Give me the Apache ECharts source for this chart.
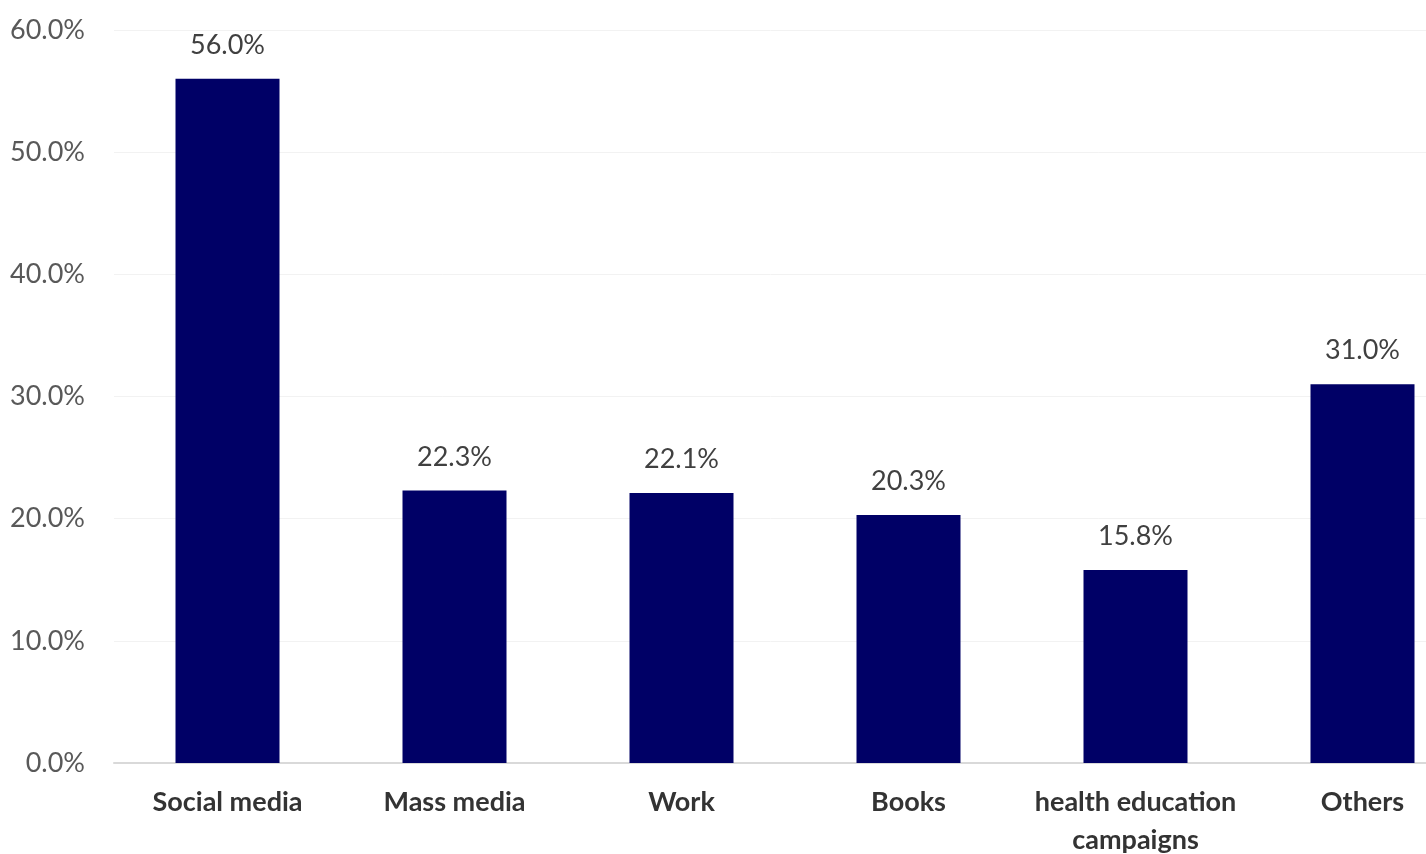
<!DOCTYPE html>
<html>
<head>
<meta charset="utf-8">
<script src="https://cdn.jsdelivr.net/npm/echarts@6/dist/echarts.min.js"></script>
<style>html,body{margin:0;padding:0;background:#fff;}#c{width:1426px;height:854px;}</style>
</head>
<body>
<div id="c"></div>
<script>
const categories = ['Social media', 'Mass media', 'Work', 'Books', 'health education\ncampaigns', 'Others'];
const values = [56.0, 22.3, 22.1, 20.3, 15.8, 31.0];
const yTicks = [0, 10, 20, 30, 40, 50, 60];

const chart = echarts.init(document.getElementById('c'));
chart.setOption({
  animation: false,
  backgroundColor: '#ffffff',
  grid: { left: 114, right: -50, top: 30, bottom: 91, containLabel: false, outerBoundsMode: 'none' },
  xAxis: {
    type: 'category',
    data: categories,
    axisTick: { show: false },
    axisLine: { lineStyle: { color: '#d9d9d9', width: 2 } },
    axisLabel: {
      color: '#333333', fontFamily: 'Lato', fontWeight: 'bold', fontSize: 27,
      margin: 20, lineHeight: 38, interval: 0
    }
  },
  yAxis: {
    type: 'value',
    min: yTicks[0], max: yTicks[yTicks.length - 1], interval: 10,
    axisLine: { show: false },
    axisTick: { show: false },
    splitLine: { lineStyle: { color: '#f2f2f2', width: 1 } },
    axisLabel: {
      color: '#595959', fontFamily: 'Lato', fontSize: 27, margin: 29,
      formatter: v => v.toFixed(1) + '%'
    }
  },
  series: [{
    type: 'bar',
    data: values,
    barWidth: 104,
    itemStyle: { color: '#000066' },
    label: {
      show: true, position: 'top', distance: 20,
      color: '#404040', fontFamily: 'Lato', fontSize: 27,
      formatter: p => p.value.toFixed(1) + '%'
    }
  }]
});
</script>
</body>
</html>
